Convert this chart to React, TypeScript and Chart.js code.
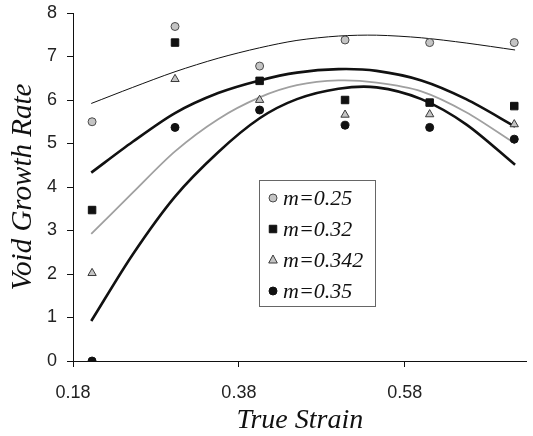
import React, { useEffect, useRef } from 'react';
import { Chart, registerables } from 'chart.js';

Chart.register(...registerables);

const seriesLabels = ['m=0.25', 'm=0.32', 'm=0.342', 'm=0.35'];
const strainPoints = [0.203, 0.303, 0.405, 0.508, 0.61, 0.712];
const m025Points = [5.5, 7.69, 6.78, 7.38, 7.32, 7.32];
const m032Points = [3.47, 7.32, 6.44, 6.0, 5.94, 5.86];
const m0342Points = [2.02, 6.48, 6.0, 5.66, 5.67, 5.44];
const m035Points = [0.0, 5.37, 5.77, 5.42, 5.37, 5.1];

const curveStrain = [0.202, 0.252, 0.303, 0.355, 0.405, 0.45, 0.5, 0.546, 0.6, 0.654, 0.713];
const m025Curve = [5.92, 6.29, 6.65, 6.96, 7.2, 7.37, 7.47, 7.49, 7.43, 7.31, 7.15];
const m032Curve = [4.33, 5.04, 5.7, 6.16, 6.45, 6.63, 6.71, 6.67, 6.45, 6.02, 5.39];
const m0342Curve = [2.92, 3.87, 4.82, 5.56, 6.06, 6.34, 6.45, 6.4, 6.2, 5.72, 5.0];
const m035Curve = [0.92, 2.45, 3.78, 4.8, 5.58, 6.02, 6.26, 6.29, 6.02, 5.44, 4.51];

const xTicks = [0.18, 0.38, 0.58];
const yTicks = [0, 1, 2, 3, 4, 5, 6, 7, 8];

const toXY = (xs: number[], ys: number[]) => xs.map((x, i) => ({ x, y: ys[i] }));

const markerStyles = [
  { shape: 'circle', fill: '#c4c4c4', stroke: '#4a4a4a' },
  { shape: 'rect', fill: '#111111', stroke: '#111111' },
  { shape: 'triangle', fill: '#c4c4c4', stroke: '#3a3a3a' },
  { shape: 'circle', fill: '#111111', stroke: '#111111' },
];

function drawMarker(ctx: CanvasRenderingContext2D, shape: string, x: number, y: number, fill: string, stroke: string) {
  ctx.save();
  ctx.fillStyle = fill;
  ctx.strokeStyle = stroke;
  ctx.lineWidth = 1;
  ctx.beginPath();
  if (shape === 'circle') {
    ctx.arc(x, y, 4, 0, Math.PI * 2);
  } else if (shape === 'rect') {
    ctx.rect(x - 3.75, y - 3.75, 7.5, 7.5);
  } else {
    ctx.moveTo(x, y - 5);
    ctx.lineTo(x + 4.3, y + 3);
    ctx.lineTo(x - 4.3, y + 3);
    ctx.closePath();
  }
  ctx.fill();
  ctx.stroke();
  ctx.restore();
}

const boxLegend = {
  id: 'boxLegend',
  afterDraw(chart: any) {
    const ctx: CanvasRenderingContext2D = chart.ctx;
    const a = chart.chartArea;
    const bx = a.left + 186;
    const by = a.top + 167;
    const bw = 116;
    const bh = 126;
    ctx.save();
    ctx.fillStyle = '#ffffff';
    ctx.fillRect(bx, by, bw, bh);
    ctx.strokeStyle = '#666666';
    ctx.lineWidth = 1;
    ctx.strokeRect(bx + 0.5, by + 0.5, bw, bh);
    ctx.font = 'italic 22px "Liberation Serif", "Times New Roman", serif';
    ctx.textBaseline = 'middle';
    ctx.textAlign = 'left';
    seriesLabels.forEach((label, i) => {
      const y = by + 18 + i * 31;
      const st = markerStyles[i];
      drawMarker(ctx, st.shape, bx + 14, y, st.fill, st.stroke);
      ctx.fillStyle = '#111111';
      ctx.fillText(label, bx + 24, y + 1);
    });
    ctx.restore();
  },
};

export default function App() {
  const ref = useRef<HTMLCanvasElement | null>(null);

  useEffect(() => {
    if (!ref.current) return;
    const lineDefaults = { type: 'line' as const, pointRadius: 0, fill: false, tension: 0.3, order: 2 };
    const chart = new Chart(ref.current, {
      type: 'scatter',
      data: {
        datasets: [
          { ...lineDefaults, label: seriesLabels[0] + ' fit', data: toXY(curveStrain, m025Curve), borderColor: '#111111', borderWidth: 1 },
          { ...lineDefaults, label: seriesLabels[1] + ' fit', data: toXY(curveStrain, m032Curve), borderColor: '#111111', borderWidth: 2.6 },
          { ...lineDefaults, label: seriesLabels[2] + ' fit', data: toXY(curveStrain, m0342Curve), borderColor: '#a0a0a0', borderWidth: 1.8 },
          { ...lineDefaults, label: seriesLabels[3] + ' fit', data: toXY(curveStrain, m035Curve), borderColor: '#111111', borderWidth: 2.6 },
          { label: seriesLabels[0], data: toXY(strainPoints, m025Points), pointStyle: 'circle', pointRadius: 4, backgroundColor: markerStyles[0].fill, borderColor: markerStyles[0].stroke, borderWidth: 1, order: 1 },
          { label: seriesLabels[1], data: toXY(strainPoints, m032Points), pointStyle: 'rect', pointRadius: 5.3, backgroundColor: markerStyles[1].fill, borderColor: markerStyles[1].stroke, borderWidth: 1, order: 1 },
          { label: seriesLabels[2], data: toXY(strainPoints, m0342Points), pointStyle: 'triangle', pointRadius: 4.8, backgroundColor: markerStyles[2].fill, borderColor: markerStyles[2].stroke, borderWidth: 1, order: 1 },
          { label: seriesLabels[3], data: toXY(strainPoints, m035Points), pointStyle: 'circle', pointRadius: 4, backgroundColor: markerStyles[3].fill, borderColor: markerStyles[3].stroke, borderWidth: 1, order: 1 },
        ] as any,
      },
      options: {
        animation: false,
        responsive: false,
        maintainAspectRatio: false,
        layout: { padding: { top: 13, right: 2, left: 0, bottom: 0 } },
        plugins: { legend: { display: false }, tooltip: { enabled: false } },
        scales: {
          x: {
            type: 'linear',
            min: 0.18,
            max: 0.727,
            afterBuildTicks: (s: any) => { s.ticks = xTicks.map((v) => ({ value: v })); },
            afterFit: (s: any) => { s.height = 75; s.paddingLeft = 0; s.paddingRight = 0; },
            grid: { drawOnChartArea: false, drawTicks: true, tickLength: 6, color: '#111111', lineWidth: 1 },
            border: { display: true, color: '#111111', width: 1 },
            ticks: {
              padding: 15,
              color: '#222222',
              font: { family: '"Liberation Sans", Arial, sans-serif', size: 18 },
              callback: (v: any) => Number(v).toFixed(2),
            },
            title: {
              display: true,
              text: 'True Strain',
              color: '#111111',
              font: { family: '"Liberation Serif", "Times New Roman", serif', size: 28, style: 'italic', lineHeight: 1 },
              padding: 1,
            },
          },
          y: {
            type: 'linear',
            min: 0,
            max: 8,
            afterBuildTicks: (s: any) => { s.ticks = yTicks.map((v) => ({ value: v })); },
            afterFit: (s: any) => { s.width = 73; s.paddingTop = 0; s.paddingBottom = 0; },
            grid: { drawOnChartArea: false, drawTicks: true, tickLength: 6, color: '#111111', lineWidth: 1 },
            border: { display: true, color: '#111111', width: 1 },
            ticks: {
              padding: 10,
              color: '#222222',
              font: { family: '"Liberation Sans", Arial, sans-serif', size: 18 },
              callback: (v: any) => String(v),
            },
            title: {
              display: true,
              text: 'Void Growth Rate',
              color: '#111111',
              font: { family: '"Liberation Serif", "Times New Roman", serif', size: 29, style: 'italic' },
              padding: 6,
            },
          },
        },
      } as any,
      plugins: [boxLegend],
    });
    return () => chart.destroy();
  }, []);

  return (
    <div style={{ position: 'fixed', left: 0, top: 0, width: 533, height: 436, background: '#ffffff' }}>
      <canvas ref={ref} width={533} height={436} style={{ display: 'block' }} />
    </div>
  );
}
